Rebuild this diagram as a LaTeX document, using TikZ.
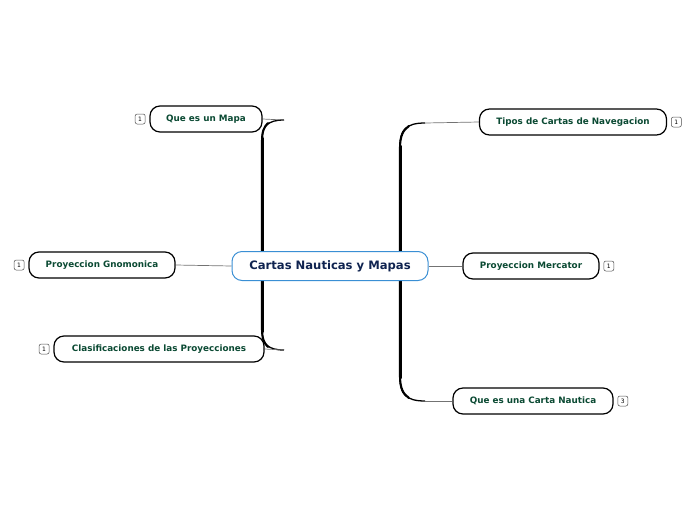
\documentclass[tikz,border=0pt]{standalone}
\usepackage{fontspec}
\setmainfont{DejaVu Sans}
\usetikzlibrary{positioning, calc, backgrounds}
\definecolor{cTOPIC}{HTML}{0B4A33}
\definecolor{cMAIN}{HTML}{0F2350}
\definecolor{cMAINLINE}{HTML}{3A8FD4}
\tikzset{
  maintopic/.style={
    draw=cMAINLINE, line width=1pt,
    rounded corners=10pt,
    fill=white,
    text=cMAIN,
    minimum width=196pt,
    minimum height=29pt,
    font=\fontsize{11.6}{13}\selectfont\bfseries
  },
  subtopic/.style={
    draw=black, line width=1.2pt,
    rounded corners=10pt,
    fill=white,
    text=cTOPIC,
    minimum height=26pt,
    font=\fontsize{8.8}{10}\selectfont\bfseries
  },
  badge/.style={
    draw=black!70, line width=0.5pt,
    rounded corners=2pt,
    inner sep=0pt,
    minimum width=10pt,
    minimum height=10pt,
    font=\fontsize{6}{7}\selectfont
  },
  link/.style={line width=0.7pt, draw=black!55},
  bracket/.style={line width=1.3pt, draw=black},
  bracketbend/.style={line width=2.1pt, draw=black, line cap=round},
  spine/.style={line width=3pt, draw=black, line cap=round}
}
\begin{document}
\begin{tikzpicture}[x=1pt, y=-1pt]
  \useasboundingbox (0,0) rectangle (696,520);

  % central topic
  \node[maintopic] (main) at (330,266) {Cartas Nauticas y Mapas};

  % left branches
  \node[subtopic, minimum width=112pt] (mapa) at (206,119) {Que es un Mapa};
  \node[subtopic, minimum width=146pt] (gnomo) at (102,265) {Proyeccion Gnomonica};
  \node[subtopic, minimum width=210pt] (clasif) at (159,349) {Clasificaciones de las Proyecciones};

  % right branches
  \node[subtopic, minimum width=187pt] (tipos) at (573,122) {Tipos de Cartas de Navegacion};
  \node[subtopic, minimum width=136pt] (merca) at (531,266) {Proyeccion Mercator};
  \node[subtopic, minimum width=160pt] (nautica) at (533,401) {Que es una Carta Nautica};

  % counters
  \node[badge, left=4pt of mapa] (bmapa) {1};
  \node[badge, left=4pt of gnomo] (bgnomo) {1};
  \node[badge, left=4pt of clasif] (bclasif) {1};
  \node[badge, right=4pt of tipos] (btipos) {1};
  \node[badge, right=4pt of merca] (bmerca) {1};
  \node[badge, right=4pt of nautica] (bnautica) {3};

  % bracket ends
  \coordinate (ltop) at (284,120);
  \coordinate (lbot) at (284,350);
  \coordinate (rtop) at (425,123);
  \coordinate (rbot) at (425,401);

  \begin{scope}[on background layer]
    % left bracket
    \draw[bracket] (ltop) .. controls (268,120) and (262,126) .. (262,140)
      -- (262,330) .. controls (262,344) and (268,350) .. (lbot);
    \draw[bracketbend] (268,123) .. controls (264,127) and (262,131) .. (262,142)
      -- (262,328) .. controls (262,339) and (264,343) .. (268,347);
    \draw[spine] (262,138) -- (262,332);
    \draw[link] (mapa.east) -- (ltop);
    \draw[link] (clasif.east) -- (lbot);
    \draw[link] (main.west) -- (gnomo.east);

    % right bracket
    \draw[bracket] (rtop) .. controls (406,123) and (400,130) .. (400,146)
      -- (400,378) .. controls (400,394) and (406,401) .. (rbot);
    \draw[spine] (400,146) -- (400,378);
    \draw[bracketbend] (409,126) .. controls (403,130) and (400,136) .. (400,148)
      -- (400,376) .. controls (400,388) and (403,394) .. (409,398);
    \draw[link] (rtop) -- (tipos.west);
    \draw[link] (rbot) -- (nautica.west);
    \draw[link] (main.east) -- (merca.west);
  \end{scope}
\end{tikzpicture}
\end{document}
